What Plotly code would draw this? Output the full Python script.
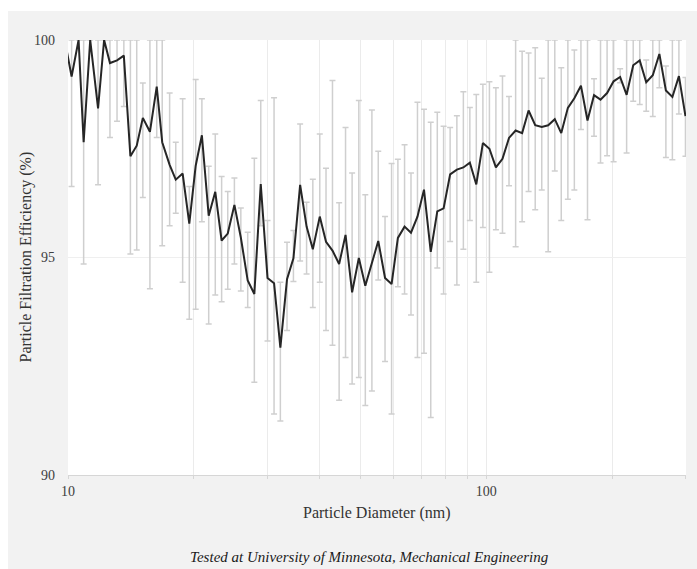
import math
import plotly.graph_objects as go

# SMPS channel mid-point diameters (nm)
diameter_nm = [
    9.82, 10.2, 10.6, 10.9, 11.3, 11.8, 12.2, 12.6, 13.1, 13.6, 14.1, 14.6, 15.1,
    15.7, 16.3, 16.8, 17.5, 18.1, 18.8, 19.5, 20.2, 20.9, 21.7, 22.5, 23.3, 24.1,
    25.0, 25.9, 26.9, 27.9, 28.9, 30.0, 31.1, 32.2, 33.4, 34.6, 35.9, 37.2, 38.5,
    40.0, 41.4, 42.9, 44.5, 46.1, 47.8, 49.6, 51.4, 53.3, 55.2, 57.3, 59.4, 61.5,
    63.8, 66.1, 68.5, 71.0, 73.7, 76.4, 79.1, 82.0, 85.1, 88.2, 91.4, 94.7, 98.2,
    101.8, 105.5, 109.4, 113.4, 117.6, 121.9, 126.3, 131.0, 135.8, 140.7, 145.9,
    151.2, 156.8, 162.5, 168.5, 174.7, 181.1, 187.7, 194.6, 201.7, 209.1, 216.7,
    224.7, 232.9, 241.4, 250.3, 259.5, 269.0, 278.8, 289.0, 299.6,
]

# Mean particle filtration efficiency (%)
efficiency = [
    100.0, 99.16, 100.0, 97.65, 100.0, 98.43, 100.0, 99.47, 99.53, 99.64, 97.33,
    97.57, 98.21, 97.89, 98.93, 97.65, 97.13, 96.79, 96.93, 95.78, 97.11, 97.81,
    95.96, 96.51, 95.39, 95.55, 96.21, 95.46, 94.47, 94.16, 96.69, 94.53, 94.41,
    92.93, 94.50, 94.98, 96.67, 95.71, 95.19, 95.94, 95.36, 95.16, 94.85, 95.52,
    94.20, 94.99, 94.35, 94.88, 95.38, 94.53, 94.39, 95.45, 95.71, 95.57, 95.94,
    96.56, 95.13, 96.06, 96.13, 96.91, 97.02, 97.07, 97.18, 96.68, 97.63, 97.50,
    97.07, 97.27, 97.75, 97.92, 97.86, 98.38, 98.04, 98.00, 98.04, 98.18, 97.86,
    98.44, 98.66, 98.95, 98.15, 98.73, 98.63, 98.78, 99.05, 99.15, 98.74, 99.42,
    99.53, 99.03, 99.19, 99.68, 98.84, 98.69, 99.17, 98.25,
]

# Lower and upper ends of the uncertainty band (%), capped at 100
ci_low = [
    100.0, 96.63, 100.0, 94.85, 100.0, 96.67, 100.0, 97.76, 98.13, 98.47, 95.08,
    95.17, 96.38, 94.28, 97.76, 95.27, 95.73, 96.02, 94.43, 93.58, 93.81, 95.82,
    93.47, 94.14, 93.98, 94.27, 94.85, 94.23, 93.85, 92.13, 95.73, 93.08, 91.40,
    91.24, 93.32, 94.45, 94.92, 94.62, 93.85, 94.43, 93.32, 92.98, 91.72, 92.70,
    92.09, 92.24, 91.60, 91.93, 94.48, 92.61, 91.40, 94.33, 94.16, 93.68, 92.70,
    92.80, 91.32, 94.76, 94.16, 95.37, 94.37, 95.19, 95.85, 94.43, 95.69, 94.66,
    95.64, 95.56, 96.65, 95.25, 95.82, 96.52, 96.10, 96.55, 95.13, 96.99, 95.85,
    96.34, 96.55, 97.94, 95.87, 97.79, 97.17, 97.34, 97.20, 99.02, 97.40, 98.59,
    98.52, 98.36, 98.24, 98.90, 97.30, 97.25, 98.30, 97.33,
]
ci_high = [
    100.0, 100.0, 100.0, 100.0, 100.0, 100.0, 100.0, 100.0, 100.0, 100.0, 100.0,
    100.0, 99.01, 100.0, 100.0, 100.0, 98.78, 97.65, 98.65, 96.63, 99.09, 98.65,
    97.10, 97.84, 96.86, 96.52, 96.83, 96.14, 95.58, 97.28, 98.61, 95.85, 98.67,
    94.43, 95.35, 95.62, 98.07, 96.27, 96.80, 97.84, 97.05, 99.07, 96.26, 97.99,
    96.94, 98.61, 96.44, 98.39, 97.44, 95.94, 97.16, 97.26, 97.59, 96.94, 98.57,
    98.41, 98.11, 98.34, 98.02, 97.99, 98.26, 98.81, 98.45, 98.75, 98.98, 99.04,
    98.90, 99.17, 98.70, 100.0, 99.74, 99.70, 99.82, 99.12, 100.0, 100.0, 99.36,
    100.0, 99.77, 100.0, 100.0, 99.11, 100.0, 100.0, 100.0, 99.34, 100.0, 100.0,
    100.0, 99.54, 100.0, 100.0, 99.40, 100.0, 100.0, 99.14,
]

x_tick_vals = [10, 20, 30, 40, 50, 60, 70, 80, 90, 100, 200, 300]
x_tick_text = ["10", "", "", "", "", "", "", "", "", "100", "", ""]
y_tick_vals = [90, 95, 100]

err_plus = [h - v for h, v in zip(ci_high, efficiency)]
err_minus = [v - l for v, l in zip(efficiency, ci_low)]

W, H = 697, 569
ML, MR, MT, MB = 68, 11, 40, 94
PW, PH = W - ML - MR, H - MT - MB


def px_x(p):
    return (p - ML) / PW


def px_y(p):
    return (H - MB - p) / PH


SERIF = "Liberation Serif, Times New Roman, serif"

fig = go.Figure()
fig.add_trace(go.Scatter(
    x=diameter_nm,
    y=efficiency,
    mode="lines",
    line=dict(color="#262626", width=2),
    error_y=dict(
        type="data",
        symmetric=False,
        array=err_plus,
        arrayminus=err_minus,
        color="#cfcfcf",
        thickness=1.5,
        width=3,
    ),
    showlegend=False,
    hoverinfo="x+y",
))

fig.update_layout(
    width=W,
    height=H,
    margin=dict(l=ML, r=MR, t=MT, b=MB),
    paper_bgcolor="#f2f2f2",
    plot_bgcolor="#ffffff",
    font=dict(family=SERIF, color="#404040", size=14),
    xaxis=dict(
        type="log",
        range=[1, math.log10(300.5)],
        tickvals=x_tick_vals,
        ticktext=x_tick_text,
        showgrid=True,
        gridcolor="#ebebeb",
        gridwidth=1,
        showline=True,
        linecolor="#d6d6d6",
        linewidth=1,
        ticks="outside",
        ticklen=3,
        tickcolor="#d6d6d6",
        ticklabelstandoff=0,
        zeroline=False,
        tickfont=dict(family=SERIF, size=14, color="#404040"),
    ),
    yaxis=dict(
        range=[90, 100],
        tickvals=y_tick_vals,
        showgrid=True,
        gridcolor="#efefef",
        gridwidth=1,
        zeroline=False,
        showline=False,
        ticks="",
        ticklabelstandoff=12,
        tickfont=dict(family=SERIF, size=14, color="#404040"),
    ),
    shapes=[
        dict(type="rect", xref="paper", yref="paper",
             x0=px_x(0), x1=px_x(W), y0=px_y(11), y1=px_y(0),
             fillcolor="#ffffff", line=dict(width=0), layer="below"),
        dict(type="rect", xref="paper", yref="paper",
             x0=px_x(0), x1=px_x(8), y0=px_y(H), y1=px_y(0),
             fillcolor="#ffffff", line=dict(width=0), layer="below"),
    ],
    annotations=[
        dict(text="Particle Diameter (nm)", xref="paper", yref="paper",
             x=0.5, y=px_y(513), xanchor="center", yanchor="middle",
             showarrow=False, font=dict(family=SERIF, size=16, color="#333333")),
        dict(text="Particle Filtration Efficiency (%)", xref="paper", yref="paper",
             x=px_x(25), y=0.5, xanchor="center", yanchor="middle", textangle=-90,
             showarrow=False, font=dict(family=SERIF, size=16, color="#333333")),
        dict(text="<i>Tested at University of Minnesota, Mechanical Engineering</i>",
             xref="paper", yref="paper", x=px_x(369), y=px_y(557),
             xanchor="center", yanchor="middle", showarrow=False,
             font=dict(family=SERIF, size=15, color="#1a1a1a")),
    ],
)

fig.write_html("out.html")
